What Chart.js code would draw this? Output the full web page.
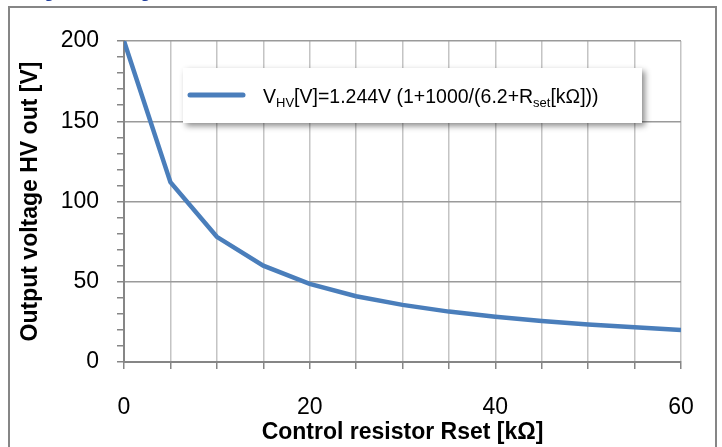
<!DOCTYPE html>
<html>
<head>
<meta charset="utf-8">
<script src="https://cdn.jsdelivr.net/npm/chart.js@4.4.1/dist/chart.umd.min.js"></script>
<style>
  html, body { margin: 0; padding: 0; background: #fff; }
  canvas { display: block; }
</style>
</head>
<body>
<canvas id="hvChart" width="722" height="447"></canvas>
<script>
// control resistor Rset [kOhm] and the output voltage
const rsetValues = [0, 5, 10, 15, 20, 25, 30, 35, 40, 45, 50, 55, 60];
const voltageValues = [200, 112, 78, 60, 48.7, 41, 35.6, 31.4, 28.2, 25.5, 23.4, 21.6, 20];

const xLabeledTicks = [0, 20, 40, 60];
const yLabeledTicks = [0, 50, 100, 150, 200];

const lineColor = "#4a7ebb";
const axisGray = "#868686";

// frame round the whole figure plus the cut-off caption at the very top
const frame = {
    id: "frame",
    beforeDraw(chart) {
        const ctx = chart.ctx;
        ctx.save();
        ctx.fillStyle = "#fff";
        ctx.fillRect(0, 0, chart.width, chart.height);
        ctx.fillStyle = "#1f3d9c";
        ctx.font = 'bold 17px "Liberation Sans"';
        ctx.textBaseline = "alphabetic";
        ctx.fillText("Figure 4 Voltage", 29, -2);
        ctx.strokeStyle = axisGray;
        ctx.lineWidth = 2;
        ctx.strokeRect(9, 7, 707, 470);
        ctx.restore();
    },
};

// legend box with subscripts, drawn over the grid
const formulaLegend = {
    id: "formulaLegend",
    afterDatasetsDraw(chart) {
        const ctx = chart.ctx;
        const bx = 183, by = 68, bw = 459, bh = 55;
        ctx.save();
        ctx.shadowColor = "rgba(0,0,0,0.45)";
        ctx.shadowBlur = 6;
        ctx.shadowOffsetX = 3;
        ctx.shadowOffsetY = 3;
        ctx.fillStyle = "#fff";
        ctx.fillRect(bx, by, bw, bh);
        ctx.restore();

        ctx.save();
        ctx.strokeStyle = lineColor;
        ctx.lineWidth = 5;
        ctx.lineCap = "round";
        ctx.beginPath();
        ctx.moveTo(190, 95);
        ctx.lineTo(243, 95);
        ctx.stroke();

        const parts = [
            ["V", false],
            ["HV", true],
            ["[V]=1.244V (1+1000/(6.2+R", false],
            ["set", true],
            ["[k\u03a9]))", false],
        ];
        let x = 263;
        const base = 103;
        ctx.fillStyle = "#000";
        ctx.textBaseline = "alphabetic";
        parts.forEach(([text, sub]) => {
            ctx.font = sub ? '13px "Liberation Sans"' : '19.5px "Liberation Sans"';
            ctx.fillText(text, x, sub ? base + 4 : base);
            x += ctx.measureText(text).width;
        });
        ctx.restore();
    },
};

const ctx = document.getElementById("hvChart").getContext("2d");
new Chart(ctx, {
    type: "line",
    data: {
        datasets: [
            {
                label: "VHV",
                data: rsetValues.map((r, i) => ({ x: r, y: voltageValues[i] })),
                borderColor: lineColor,
                borderWidth: 4.5,
                pointRadius: 0,
                tension: 0,
                fill: false,
            },
        ],
    },
    options: {
        responsive: false,
        animation: false,
        devicePixelRatio: 1,
        layout: { padding: { left: 10, top: 41, right: 41, bottom: 0 } },
        plugins: {
            legend: { display: false },
            tooltip: { enabled: false },
        },
        scales: {
            x: {
                type: "linear",
                min: 0,
                max: 60,
                afterFit: (scale) => { scale.height = 85; },
                ticks: {
                    stepSize: 5,
                    autoSkip: false,
                    maxRotation: 0,
                    padding: 25,
                    color: "#000",
                    font: { family: "Liberation Sans", size: 23 },
                    callback: (v) => (xLabeledTicks.includes(v) ? v : ""),
                },
                grid: {
                    color: "#c4c4c4",
                    lineWidth: 1.5,
                    tickColor: axisGray,
                    tickLength: 7,
                },
                border: { color: axisGray, width: 2 },
                title: {
                    display: true,
                    text: "Control resistor Rset [k\u03a9]",
                    color: "#000",
                    padding: { top: 0, bottom: 1 },
                    font: { family: "Liberation Sans", size: 23, weight: "bold" },
                },
            },
            y: {
                min: 0,
                max: 200,
                afterFit: (scale) => { scale.width = 114; },
                ticks: {
                    stepSize: 10,
                    autoSkip: false,
                    padding: 18,
                    color: "#000",
                    font: { family: "Liberation Sans", size: 23 },
                    callback: (v) => (yLabeledTicks.includes(v) ? v : ""),
                },
                grid: {
                    color: (c) => (yLabeledTicks.includes(c.tick.value) ? "#9a9a9a" : "rgba(0,0,0,0)"),
                    lineWidth: 1.5,
                    tickColor: axisGray,
                    tickLength: 7,
                },
                border: { color: axisGray, width: 2 },
                title: {
                    display: true,
                    text: "Output voltage HV out [V]",
                    color: "#000",
                    padding: { top: 7, bottom: 0 },
                    font: { family: "Liberation Sans", size: 23, weight: "bold" },
                },
            },
        },
    },
    plugins: [frame, formulaLegend],
});
</script>
</body>
</html>
